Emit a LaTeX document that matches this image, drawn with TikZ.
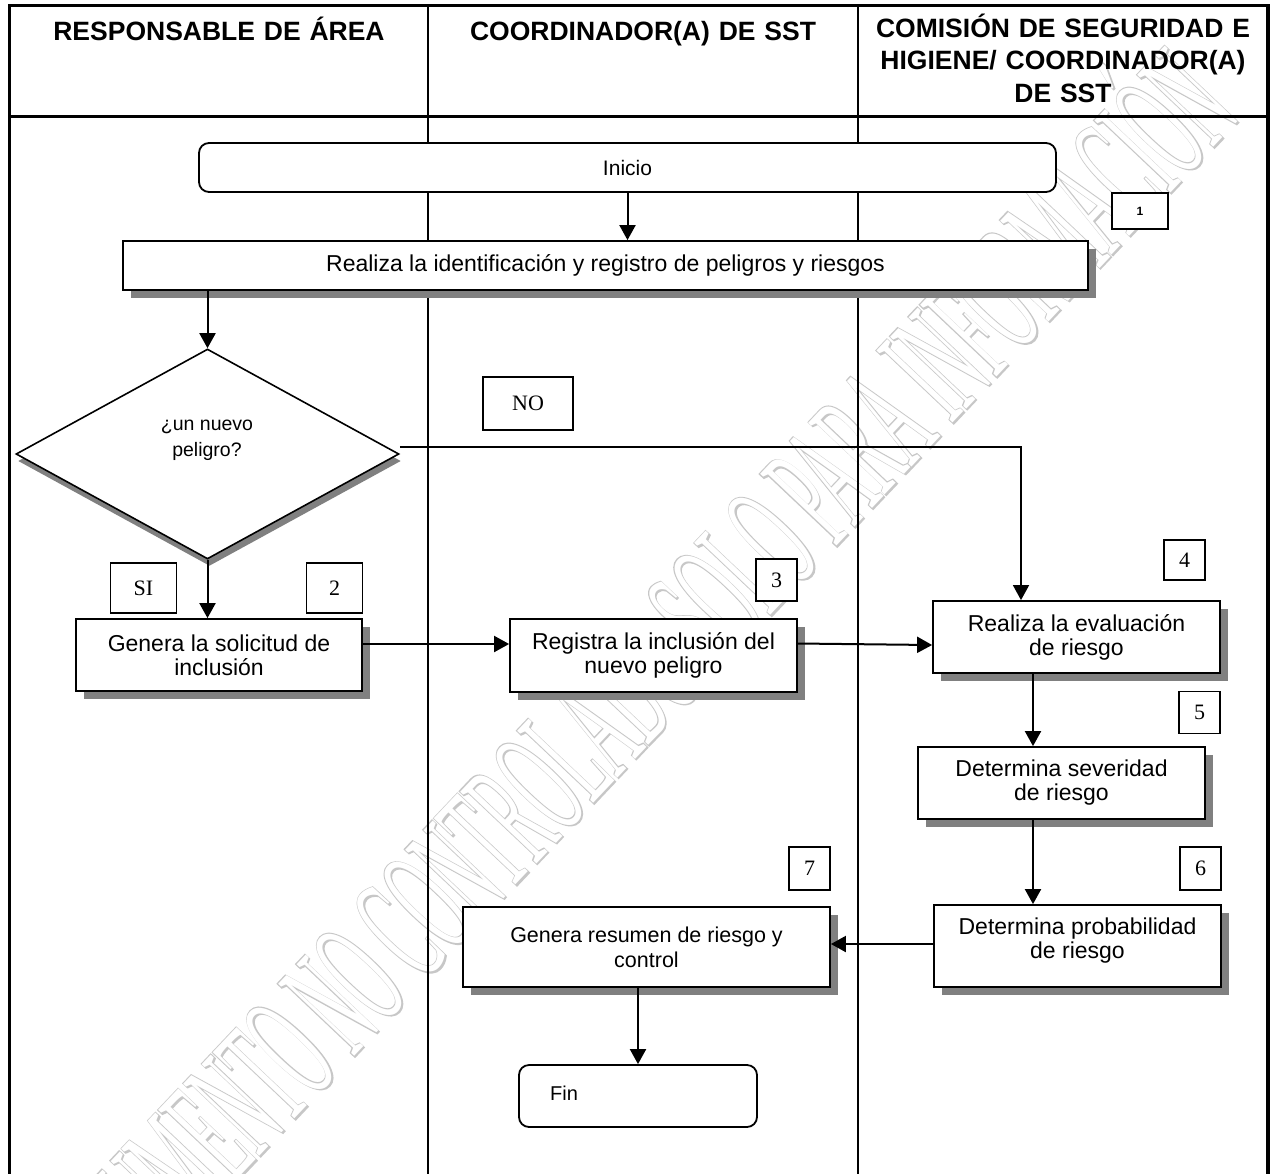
\documentclass[tikz,border=0pt]{standalone}
\usepackage{fontspec}
\setmainfont{Liberation Sans}
\newfontfamily\serifnum{Liberation Serif}
\newfontfamily\wmboldfont[FakeBold=2.2]{Liberation Serif}
\usetikzlibrary{arrows.meta,shapes.geometric,shadows}
\begin{document}
\begin{tikzpicture}[x=1pt,y=-1pt,
  frame/.style={line width=3.2pt},
  lane/.style={line width=1.6pt},
  head/.style={font=\bfseries\fontsize{26.5}{32.5}\selectfont, align=center, text width=400pt, anchor=base, inner sep=0pt},
  shadowed/.style={drop shadow={shadow xshift=8pt, shadow yshift=-8pt, fill=gray, opacity=1}},
  proc/.style={draw, line width=1.8pt, fill=white, align=center, inner sep=0pt, font=\fontsize{23}{24}\selectfont, shadowed},
  term/.style={draw, line width=1.8pt, rounded corners=10pt, fill=white, inner sep=0pt},
  num/.style={draw, line width=1.5pt, fill=white, inner sep=0pt, font=\serifnum\fontsize{22}{24}\selectfont},
  arr/.style={line width=2pt, -{Triangle[length=15pt,width=16pt]}},
  wmark/.style={inner sep=0pt, rotate=46.6},
]
\useasboundingbox (0,0) rectangle (1271,1173);
\fill[white] (0,0) rectangle (1271,1173);

% watermark (outlined letters: stroked copy, then white copy on top)
\node[wmark, text=black!22, font=\wmboldfont\fontsize{160}{160}\selectfont] (wm) at (612,685) {\scalebox{0.375}[1]{DOCUMENTO NO CONTROLADO SOLO PARA INFORMACIÓN}};
\node[wmark, text=white, font=\serifnum\fontsize{160}{160}\selectfont] (wmin) at (612,685) {\scalebox{0.375}[1]{DOCUMENTO NO CONTROLADO SOLO PARA INFORMACIÓN}};

% swimlane frame
\draw[lane] (428,5) -- (428,1185);
\draw[lane] (858,5) -- (858,1185);
\draw[frame] (9.5,5.5) rectangle (1268,1190);
\draw[frame] (9.5,116.5) -- (1268,116.5);

% headers
\node[head] (h1) at (219,40) {RESPONSABLE DE ÁREA};
\node[head] (h2) at (643,40) {COORDINADOR(A) DE SST};
\node[head] (h3) at (1063,37) {COMISIÓN DE SEGURIDAD E\\HIGIENE/ COORDINADOR(A)\\DE SST};

% nodes
\node[term, minimum width=857pt, minimum height=49pt, font=\fontsize{21}{24}\selectfont] (ini) at (627.5,167.5) {Inicio};
\node[proc, minimum width=965pt, minimum height=49pt] (id) at (605.5,265.5) {Realiza la identificación y registro de peligros y riesgos};
\node[draw, diamond, line width=1.6pt, fill=white, minimum width=383pt, minimum height=210pt, inner sep=0pt,
      drop shadow={shadow xshift=2pt, shadow yshift=-7pt, fill=gray, opacity=1}] (dec) at (207.5,454) {};
\node[font=\fontsize{19.5}{26}\selectfont, align=center, inner sep=0pt] (dect) at (207,440) {¿un nuevo\\peligro?};
\node[proc, minimum width=286pt, minimum height=72pt] (gen) at (219,655) {Genera la solicitud de\\inclusión};
\node[proc, minimum width=287pt, minimum height=73pt] (reg) at (653.5,655.5) {Registra la inclusión del\\nuevo peligro};
\node[proc, minimum width=287pt, minimum height=72pt] (eva) at (1076.5,637) {Realiza la evaluación\\de riesgo};
\node[proc, minimum width=287pt, minimum height=72pt] (sev) at (1061.5,783) {Determina severidad\\de riesgo};
\node[proc, minimum width=287pt, minimum height=82pt, text depth=16pt] (pro) at (1077.5,946) {Determina probabilidad\\de riesgo};
\node[proc, minimum width=367pt, minimum height=80pt, font=\fontsize{21.5}{25}\selectfont] (res) at (646.5,947) {Genera resumen de riesgo y\\control};
\node[term, minimum width=238pt, minimum height=62pt] (fin) at (638,1096) {};
\node[font=\fontsize{20}{24}\selectfont, anchor=base west, inner sep=0pt] (fint) at (550,1100) {Fin};

% number / label boxes
\node[draw, line width=1.5pt, fill=white, inner sep=0pt, minimum width=56pt, minimum height=36pt, font=\bfseries\fontsize{12}{14}\selectfont] (n1) at (1140,211) {1};
\node[num, minimum width=90pt, minimum height=53pt] (nno) at (528,403.5) {NO};
\node[num, minimum width=66pt, minimum height=50pt] (nsi) at (143.5,588) {SI};
\node[num, minimum width=56pt, minimum height=50pt] (n2) at (334.5,588) {2};
\node[num, minimum width=41pt, minimum height=42pt] (n3) at (776.5,580) {3};
\node[num, minimum width=41pt, minimum height=40pt] (n4) at (1184.5,560) {4};
\node[num, minimum width=41pt, minimum height=42pt] (n5) at (1199.5,712.5) {5};
\node[num, minimum width=41pt, minimum height=43pt] (n6) at (1200.5,868.5) {6};
\node[num, minimum width=41pt, minimum height=43pt] (n7) at (809.5,868.5) {7};

% helper coordinates
\coordinate (xA) at (1033,0);
\coordinate (noturn) at (1021,447);

% connectors
\draw[arr] (ini.south) -- (ini.south |- id.north);
\draw[arr] (id.south -| dec.north) -- (dec.north);
\draw[arr] (dec.south) -- (dec.south |- gen.north);
\draw[arr, line width=1.6pt] ([yshift=7pt]dec.east) -- (noturn) -- (noturn |- eva.north);
\draw[arr] ([yshift=11pt]gen.east) -- ([yshift=11pt]gen.east -| reg.west);
\draw[arr] ([yshift=12pt]reg.east) -- ([yshift=-8pt]eva.west);
\draw[arr] (eva.south -| xA) -- (sev.north -| xA);
\draw[arr] (sev.south -| xA) -- (pro.north -| xA);
\draw[arr] ([yshift=2pt]pro.west) -- ([yshift=2pt]pro.west -| res.east);
\draw[arr] (res.south -| fin.north) -- (fin.north);
\end{tikzpicture}
\end{document}
